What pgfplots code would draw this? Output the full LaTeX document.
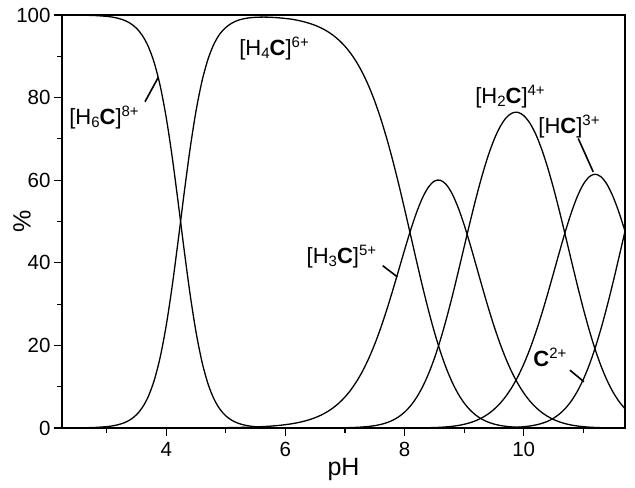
\documentclass[border=0pt]{standalone}
\usepackage{pgfplots}
\pgfplotsset{compat=1.18}
\usepackage{pgfplotstable}
\usepackage{fontspec}
\setmainfont{Liberation Sans}

\newcommand{\lb}{\fontsize{22}{22}\selectfont}
\newcommand{\sbs}[1]{\raisebox{-3pt}{\fontsize{15}{15}\selectfont #1}}
\newcommand{\sps}[1]{\raisebox{8pt}{\fontsize{15}{15}\selectfont #1}}

\pgfplotstableread{
pH H6 H4 H3 H2 H1 C
2.25 99.99 0.01 0 0 0 0
2.4 99.98 0.02 0 0 0 0
2.6 99.95 0.05 0 0 0 0
2.8 99.87 0.13 0 0 0 0
3.0 99.67 0.33 0 0 0 0
3.1 99.48 0.52 0 0 0 0
3.2 99.17 0.83 0 0 0 0
3.3 98.70 1.30 0 0 0 0
3.4 97.95 2.05 0 0 0 0
3.5 96.79 3.21 0 0 0 0
3.6 95.01 4.99 0 0 0 0
3.7 92.32 7.68 0 0 0 0
3.8 88.35 11.65 0 0 0 0
3.9 82.72 17.28 0 0 0 0
4.0 75.12 24.88 0 0 0 0
4.1 65.58 34.42 0 0 0 0
4.2 54.59 45.41 0 0 0 0
4.3 43.15 56.85 0 0 0 0
4.4 32.39 67.61 0 0 0 0
4.5 23.20 76.80 0 0 0 0
4.6 16.00 84.00 0 0 0 0
4.7 10.73 89.27 0 0 0 0
4.8 7.05 92.95 0 0 0 0
4.9 4.57 95.43 0 0 0 0
5.0 2.93 96.99 0.08 0 0 0
5.1 1.87 98.03 0.10 0 0 0
5.2 1.19 98.69 0.13 0 0 0
5.3 0.75 99.09 0.16 0 0 0
5.4 0.48 99.32 0.20 0 0 0
5.5 0.30 99.44 0.26 0 0 0
5.6 0.19 99.49 0.32 0 0 0
5.7 0.12 99.48 0.40 0 0 0
5.8 0.08 99.41 0.51 0 0 0
5.9 0.05 99.31 0.64 0 0 0
6.0 0.03 99.16 0.81 0 0 0
6.1 0.02 98.99 1.01 0 0 0
6.2 0.01 98.73 1.27 0 0 0
6.3 0 98.40 1.60 0 0 0
6.4 0 97.99 2.00 0.01 0 0
6.5 0 97.49 2.51 0.01 0 0
6.6 0 96.85 3.13 0.01 0 0
6.7 0 96.07 3.91 0.02 0 0
6.8 0 95.09 4.88 0.03 0 0
6.9 0 93.89 6.06 0.04 0 0
7.0 0 92.42 7.51 0.07 0 0
7.1 0 90.62 9.27 0.10 0 0
7.2 0 88.45 11.39 0.16 0 0
7.3 0 85.83 13.92 0.25 0 0
7.4 0 82.73 16.89 0.38 0 0
7.5 0 79.10 20.33 0.57 0 0
7.6 0 74.90 24.24 0.86 0 0
7.7 0 70.15 28.58 1.28 0 0
7.8 0 64.86 33.27 1.87 0 0
7.9 0 59.12 38.17 2.70 0 0
8.0 0 53.04 43.11 3.84 0.01 0
8.1 0 46.76 47.85 5.37 0.01 0
8.2 0 40.47 52.14 7.37 0.02 0
8.3 0 34.35 55.71 9.91 0.04 0
8.4 0 28.56 58.32 13.06 0.07 0
8.5 0 23.26 59.78 16.85 0.11 0
8.6 0 18.54 60.00 21.29 0.17 0
8.7 0 14.47 58.94 26.33 0.27 0
8.8 0 11.05 56.67 31.87 0.41 0
8.9 0 8.26 53.35 37.77 0.61 0
9.0 0 6.05 49.20 43.85 0.90 0
9.1 0 4.35 44.47 49.90 1.28 0
9.2 0 3.06 39.43 55.70 1.80 0.01
9.3 0 2.12 34.33 61.05 2.49 0.01
9.4 0 1.44 29.38 65.79 3.37 0.02
9.5 0 0.96 24.75 69.75 4.50 0.03
9.6 0 0.63 20.53 72.86 5.92 0.05
9.7 0 0.41 16.80 75.03 7.68 0.08
9.8 0 0.26 13.56 76.23 9.82 0.12
9.9 0 0.17 10.80 76.44 12.40 0.20
10.0 0 0.10 8.49 75.65 15.45 0.31
10.1 0 0.06 6.58 73.88 18.99 0.48
10.2 0 0.04 5.04 71.19 23.04 0.73
10.3 0 0.02 3.80 67.56 27.52 1.10
10.4 0 0.01 2.82 63.15 32.39 1.62
10.5 0 0 2.06 58.07 37.49 2.37
10.6 0 0 1.48 52.48 42.65 3.39
10.7 0 0 1.04 46.55 47.64 4.76
10.8 0 0 0.72 40.51 52.19 6.57
10.9 0 0 0.49 34.57 56.06 8.88
11.0 0 0 0.32 28.90 59.00 11.77
11.1 0 0 0.21 23.67 60.84 15.28
11.2 0 0 0.13 18.99 61.45 19.43
11.3 0 0 0.08 14.92 60.79 24.20
11.4 0 0 0.05 11.49 58.93 29.53
11.5 0 0 0.03 8.67 55.98 35.32
11.6 0 0 0.02 6.42 52.15 41.42
11.7 0 0 0.01 4.66 47.67 47.67
}\spec

\begin{document}
\begin{tikzpicture}
\begin{axis}[
  scale only axis, width=563pt, height=413pt,
  xmin=2.25, xmax=11.7, ymin=0, ymax=100,
  xtick={4,6,8,10}, minor xtick={3,5,7,9,11},
  ytick={0,20,40,60,80,100}, minor ytick={10,30,50,70,90},
  tick align=outside, xtick pos=bottom, ytick pos=left,
  major tick length=8pt, minor tick length=5pt,
  axis line style={line width=1.2pt},
  every tick/.append style={line width=1.2pt, black},
  /pgf/number format/assume math mode=true,
  ticklabel style={font=\fontsize{20.5}{20.5}\selectfont},
  xticklabel style={yshift=-3pt},
  xlabel={pH}, ylabel={\%},
  xlabel style={font=\fontsize{25}{25}\selectfont, at={(axis description cs:0.5,-0.1138)}, anchor=base},
  ylabel style={font=\fontsize{25}{25}\selectfont, at={(axis description cs:-0.071,0.5)}, anchor=center},
]
\addplot[black, line width=1.3pt, smooth] table[x=pH, y=H6] {\spec};
\addplot[black, line width=1.3pt, smooth] table[x=pH, y=H4] {\spec};
\addplot[black, line width=1.3pt, smooth] table[x=pH, y=H3] {\spec};
\addplot[black, line width=1.3pt, smooth] table[x=pH, y=H2] {\spec};
\addplot[black, line width=1.3pt, smooth] table[x=pH, y=H1] {\spec};
\addplot[black, line width=1.3pt, smooth] table[x=pH, y=C] {\spec};

\node[font=\lb, inner sep=0pt] at (axis cs:2.955,75.1) {[H\sbs{6}\textbf{C}]\sps{8+}};
\draw[line width=1.6pt] (axis cs:3.643,79.0) -- (axis cs:3.866,84.9);
\node[font=\lb, inner sep=0pt] at (axis cs:5.81,91.8) {[H\sbs{4}\textbf{C}]\sps{6+}};
\node[font=\lb, inner sep=0pt] at (axis cs:6.94,41.5) {[H\sbs{3}\textbf{C}]\sps{5+}};
\draw[line width=1.6pt] (axis cs:7.633,39.3) -- (axis cs:7.878,36.6);
\node[font=\lb, inner sep=0pt] at (axis cs:9.77,80.2) {[H\sbs{2}\textbf{C}]\sps{4+}};
\node[font=\lb, inner sep=0pt] at (axis cs:10.76,73.0) {[H\textbf{C}]\sps{3+}};
\draw[line width=1.6pt] (axis cs:10.915,70.1) -- (axis cs:11.167,62.0);
\node[font=\lb, inner sep=0pt] at (axis cs:10.44,17.2) {\textbf{C}\sps{2+}};
\draw[line width=1.6pt] (axis cs:10.776,14.0) -- (axis cs:11.011,11.2);

\coordinate (bl) at (rel axis cs:0,0);
\coordinate (tr) at (rel axis cs:1,1);
\end{axis}
\pgfresetboundingbox
\path[use as bounding box] ([xshift=-62pt,yshift=-59pt]bl) rectangle ([xshift=10pt,yshift=15pt]tr);
\end{tikzpicture}
\end{document}
